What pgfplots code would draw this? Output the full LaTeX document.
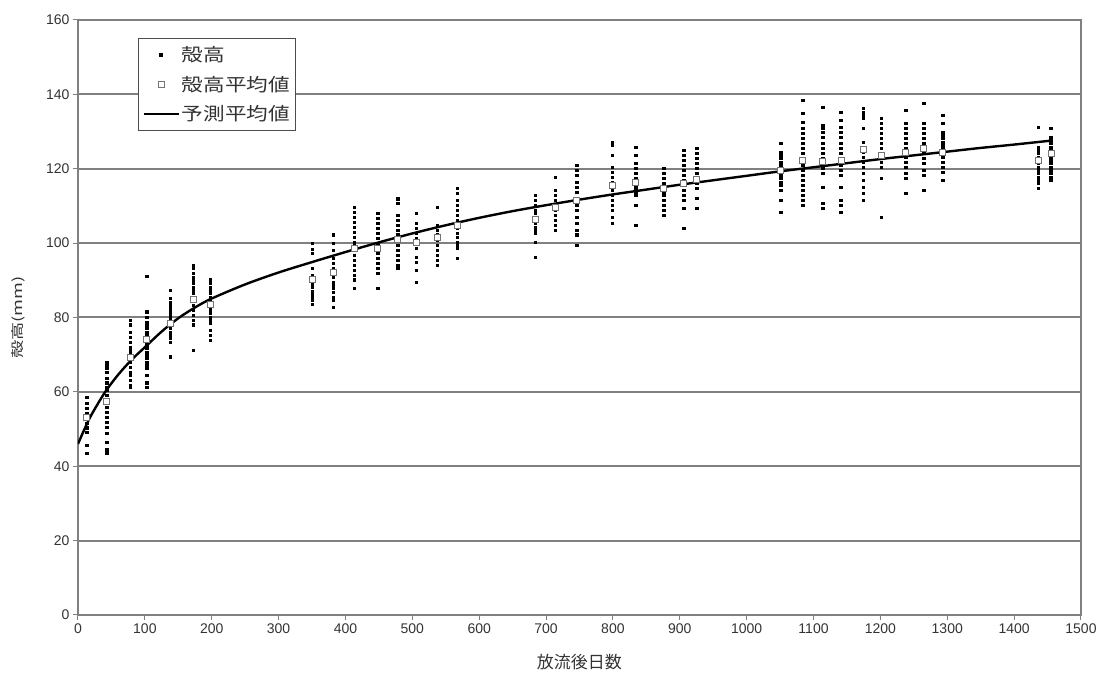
\documentclass[border=0pt]{standalone}
\usepackage{pgfplots}
\pgfplotsset{compat=1.18}
\usepackage{fontspec}
\setmainfont{Liberation Sans}
\newfontfamily\cjk{Noto Sans CJK JP}
\newfontfamily\cjkleg[FakeStretch=1.2]{Noto Sans CJK JP}
\newfontfamily\cjkylab[FakeStretch=1.4]{Noto Sans CJK JP}
\pgfplotsset{
  markleg/.style={legend image code/.code={\draw[mark repeat=2,mark phase=2,##1] plot coordinates {(0pt,0pt)(17.5pt,0pt)(35pt,0pt)};}},
  lineleg/.style={legend image code/.code={\draw[##1] (0pt,0pt) -- (35pt,0pt);}},
}
\begin{document}
\begin{tikzpicture}
\begin{axis}[
  at={(0pt,0pt)}, anchor=south west,
  width=1003pt, height=595pt, scale only axis,
  xmin=0, xmax=1500, ymin=0, ymax=160,
  xtick={0,100,...,1500}, ytick={0,20,...,160},
  /pgf/number format/assume math mode=true,
  /pgf/number format/1000 sep={},
  ticklabel style={font=\fontsize{14}{14}\selectfont, text=black!80},
  ymajorgrids, major grid style={black!50, line width=2pt},
  axis line style={black!50, line width=1.6pt},
  tick style={black!50, line width=1pt}, major tick length=5pt, tick align=outside, tick pos=left,
  xlabel={\cjk 放流後日数},
  ylabel={\cjkylab 殻高(mm)},
  every axis x label/.style={at={(axis description cs:0.5,0)}, yshift=-47pt, anchor=center, font=\fontsize{17}{17}\selectfont, text=black!80},
  every axis y label/.style={at={(axis description cs:0,0.5)}, xshift=-60pt, rotate=90, anchor=center, font=\fontsize{13}{13}\selectfont, text=black!80},
  legend style={at={(0.0598,0.9697)}, anchor=north west, draw=black!70, line width=1pt, fill=white,
    inner xsep=4pt, inner ysep=6pt, row sep=9pt, font=\fontsize{18}{18}\selectfont\cjkleg, text=black!80, cells={anchor=west}},
  legend cell align=left,
]
% individual shell heights
\addplot[only marks, mark=square*, mark size=1.25pt, black, markleg]
coordinates {
(13,58.6)(13,57.0)(13,55.6)(13,54.3)(13,53.2)(13,51.6)(13,50.3)(13,49.2)(13,45.7)(13,43.5)
(43,68)(43,67.2)(43,66.4)(43,65.3)(43,63.7)(43,62.4)(43,61.3)(43,60.5)(43,59.1)(43,57.8)(43,57)(43,55.9)(43,54.6)(43,53.2)(43,51.9)(43,50.5)(43,48.9)(43,46.5)(43,44.4)(43,43.5)
(78,79.3)(78,78)(78,76.1)(78,74.7)(78,73.4)(78,72)(78,71.2)(78,70.4)(78,69.4)(78,68)(78,66.7)(78,65.3)(78,64.5)(78,63.2)(78,61.8)(78,61.3)
(103,91.1)(103,81.5)(103,80.1)(103,78.8)(103,78)(103,77.2)(103,76.1)(103,75.3)(103,74.5)(103,73.4)(103,72.6)(103,71.8)(103,70.7)(103,69.9)(103,69.1)(103,68)(103,67.2)(103,66.4)(103,64.5)(103,62.4)(103,61.3)
(138,87.4)(138,85.2)(138,84.1)(138,83.3)(138,82.5)(138,81.5)(138,80.6)(138,79.8)(138,78.8)(138,78)(138,77.2)(138,76.1)(138,75.3)(138,74.5)(138,73.4)(138,69.4)
(172,94.1)(172,93.3)(172,91.9)(172,90.9)(172,90.1)(172,89.2)(172,88.2)(172,87.4)(172,86.6)(172,85.5)(172,84.7)(172,83.3)(172,82)(172,80.6)(172,79.3)(172,78)(172,71.2)
(198,90.1)(198,89.2)(198,88.2)(198,87.4)(198,86.6)(198,85.5)(198,84.7)(198,83.9)(198,82.8)(198,82)(198,81.2)(198,80.1)(198,79.3)(198,78.5)(198,76.6)(198,75.3)(198,73.9)
(350,100)(350,98.4)(350,97.3)(350,93.3)(350,91.4)(350,90)(350,89.2)(350,88.7)(350,88.2)(350,87.1)(350,86.8)(350,86.3)(350,85.5)(350,85)(350,84.7)(350,83.6)
(382,102.2)(382,100)(382,98.1)(382,96)(382,94.6)(382,93.3)(382,92.2)(382,90.9)(382,89.5)(382,88.7)(382,87.9)(382,86.8)(382,85.5)(382,84.7)(382,82.8)
(413,109.7)(413,108.3)(413,107)(413,105.6)(413,104.3)(413,103)(413,101.6)(413,100.3)(413,99.5)(413,98.1)(413,96.8)(413,95.4)(413,94.1)(413,92.7)(413,91.4)(413,90.1)(413,87.9)
(448,108)(448,106.7)(448,105.4)(448,104)(448,102.7)(448,101.3)(448,100)(448,98.7)(448,97.3)(448,96)(448,94.6)(448,93.3)(448,91.9)(448,87.9)
(478,112)(478,110.7)(478,107.5)(478,106.2)(478,104.8)(478,103.5)(478,102.2)(478,100.8)(478,99.5)(478,98.1)(478,96.8)(478,95.4)(478,94.1)(478,93.3)
(506,108)(506,105.4)(506,104)(506,102.7)(506,101.3)(506,100)(506,98.7)(506,96.2)(506,94.9)(506,92.7)(506,89.5)
(537,109.7)(537,104.8)(537,103.5)(537,102.2)(537,100.8)(537,99.5)(537,98.1)(537,96.8)(537,95.4)(537,94.1)
(567,114.8)(567,113.4)(567,111.6)(567,110.2)(567,108.9)(567,107.5)(567,106.2)(567,104.8)(567,104)(567,102.7)(567,101.6)(567,100.3)(567,99.5)(567,98.7)(567,96)
(684,112.9)(684,111.6)(684,110.2)(684,108.9)(684,108)(684,107)(684,106.2)(684,105.4)(684,104.3)(684,103.5)(684,102.7)(684,100.3)(684,96.2)
(714,117.7)(714,114.2)(714,112.9)(714,111.6)(714,110.2)(714,108.9)(714,107.5)(714,106.2)(714,104.8)(714,103.5)
(746,121)(746,119.6)(746,118.3)(746,116.4)(746,115.1)(746,113.7)(746,112.1)(746,110.2)(746,108.9)(746,107)(746,105.4)(746,103.5)(746,102.2)(746,99.5)
(799,127.2)(799,126.3)(799,123.7)(799,120.4)(799,119.1)(799,117.7)(799,116.4)(799,115.6)(799,114.2)(799,112.9)(799,111.6)(799,110.2)(799,108.9)(799,107)(799,105.4)
(834,125.8)(834,123.7)(834,121.5)(834,120.2)(834,118.8)(834,117.5)(834,116.4)(834,115.6)(834,114.8)(834,113.7)(834,112.9)(834,110.2)(834,104.8)
(876,120.2)(876,118.8)(876,117.5)(876,116.1)(876,114.8)(876,113.7)(876,112.9)(876,111.6)(876,110.2)(876,108.9)(876,107.5)
(906,125)(906,123.7)(906,122.3)(906,121)(906,119.6)(906,118.3)(906,116.9)(906,115.6)(906,114.2)(906,112.9)(906,111.6)(906,109.4)(906,104)
(925,125.5)(925,124.2)(925,122.8)(925,121.5)(925,120.2)(925,118.8)(925,117.5)(925,116.1)(925,114.8)(925,112.1)(925,109.4)
(1051,126.9)(1051,124.5)(1051,123.7)(1051,122.8)(1051,121.8)(1051,121)(1051,120.2)(1051,119.1)(1051,118.3)(1051,117.5)(1051,116.4)(1051,115.6)(1051,114.2)(1051,111.6)(1051,108.3)
(1084,138.4)(1084,134.9)(1084,132.5)(1084,130.9)(1084,129.6)(1084,128.2)(1084,126.9)(1084,125.5)(1084,124.2)(1084,122.3)(1084,121)(1084,119.6)(1084,118.3)(1084,116.9)(1084,115.6)(1084,114.2)(1084,112.9)(1084,111.6)(1084,110.2)
(1114,136.6)(1114,131.7)(1114,130.9)(1114,129.8)(1114,128.5)(1114,126.9)(1114,125.5)(1114,124.2)(1114,122.8)(1114,121.5)(1114,120.2)(1114,118.8)(1114,115.1)(1114,110.8)(1114,109.4)
(1141,135.2)(1141,133.1)(1141,131.2)(1141,129.8)(1141,128.5)(1141,126.9)(1141,125.5)(1141,124.2)(1141,122.3)(1141,121)(1141,119.6)(1141,118.3)(1141,115.1)(1141,111.6)(1141,110.2)(1141,108.3)
(1174,136.3)(1174,135.2)(1174,134.4)(1174,133.6)(1174,130.9)(1174,127.2)(1174,125.8)(1174,124.5)(1174,123.1)(1174,121.8)(1174,120.4)(1174,118.8)(1174,116.9)(1174,115.1)(1174,113.4)(1174,111.6)
(1201,133.6)(1201,132.3)(1201,130.9)(1201,129.6)(1201,128.2)(1201,126.9)(1201,125.5)(1201,124.2)(1201,123.1)(1201,121.8)(1201,120.4)(1201,117.5)(1201,107)
(1238,135.8)(1238,132.3)(1238,130.9)(1238,129.6)(1238,128.2)(1238,126.9)(1238,125.5)(1238,124.5)(1238,123.1)(1238,121.8)(1238,120.4)(1238,118.8)(1238,117.5)(1238,113.4)
(1265,137.6)(1265,132.3)(1265,130.9)(1265,129.6)(1265,128.2)(1265,126.9)(1265,125.5)(1265,124.2)(1265,122.8)(1265,121.5)(1265,119.6)(1265,118.3)(1265,114.2)
(1293,134.4)(1293,132.3)(1293,129.8)(1293,129)(1293,128.2)(1293,127.2)(1293,126.3)(1293,125.5)(1293,124.5)(1293,123.1)(1293,121.8)(1293,120.4)(1293,119.1)(1293,116.9)
(1436,131.2)(1436,125.8)(1436,125)(1436,124.2)(1436,123.1)(1436,122.3)(1436,121.5)(1436,120.4)(1436,119.6)(1436,118.8)(1436,117.7)(1436,116.9)(1436,116.1)(1436,114.8)
(1455,130.9)(1455,128.5)(1455,127.7)(1455,126.9)(1455,125.8)(1455,125)(1455,124.2)(1455,123.1)(1455,122.3)(1455,121.5)(1455,120.4)(1455,119.6)(1455,118.8)(1455,117.7)(1455,116.9)
};
\addlegendentry{殻高}
% mean shell heights
\addplot[only marks, mark=square*, mark size=3pt, mark options={draw=black!55, fill=white, line width=0.8pt}, markleg]
coordinates {
(13,53.2)(43,57.5)(78,69.4)(103,74.2)(138,78.5)(172,85)(198,83.6)
(350,90.3)(382,92.2)(413,98.5)(448,98.5)(478,101)(506,100.3)(537,101.6)(567,104.8)
(684,106.5)(714,109.5)(746,111.6)(799,115.6)(834,116.4)(876,114.8)(906,116)(925,117)
(1051,119.5)(1084,122.3)(1114,122)(1141,122.3)(1174,125.3)(1201,123.5)(1238,124.5)(1265,125.5)(1293,124.5)
(1436,122.3)(1455,124)
};
\addlegendentry{殻高平均値}
% predicted mean
\addplot[black, line width=2.4pt, mark=none, smooth, tension=0.5, lineleg]
coordinates {
(0,46)(10,50.1)(20,53.8)(40,59.8)(60,64.6)(80,68.6)(100,72)(125,76.2)(150,79.8)(175,82.7)
(200,85.1)(250,88.9)(300,92.1)(350,94.9)(400,97.6)(450,100.2)(500,102.6)(550,104.8)(600,106.8)
(650,108.6)(700,110.2)(750,111.7)(800,113.1)(850,114.4)(900,115.7)(950,116.9)(1000,118.1)
(1050,119.3)(1100,120.4)(1150,121.5)(1200,122.6)(1250,123.6)(1300,124.6)(1350,125.6)(1400,126.5)(1452,127.5)
};
\addlegendentry{予測平均値}
\end{axis}
\path[use as bounding box] (-78pt,-58pt) rectangle (1025pt,615pt);
\end{tikzpicture}
\end{document}
